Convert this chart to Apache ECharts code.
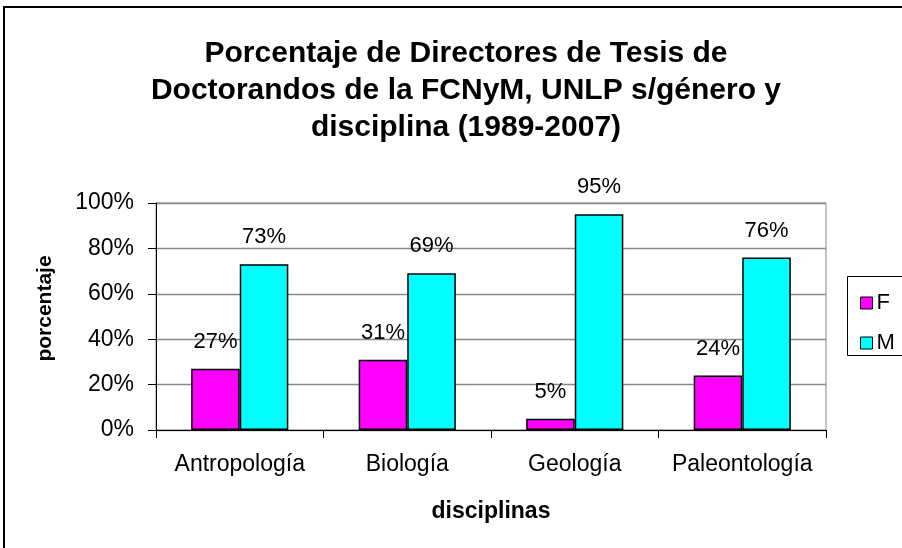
<!DOCTYPE html>
<html>
<head>
<meta charset="utf-8">
<script src="https://cdn.jsdelivr.net/npm/echarts@6/dist/echarts.min.js"></script>
<style>
  html, body { margin: 0; padding: 0; background: #fff; }
  #chart { width: 902px; height: 548px; }
</style>
</head>
<body>
<div id="chart"></div>
<script>
// Disciplines and share of thesis directors by gender (percent)
const categories = ['Antropología', 'Biología', 'Geología', 'Paleontología'];
const seriesF = [27, 31, 5, 24];
const seriesM = [73, 69, 95, 76];
const yTicks = [0, 20, 40, 60, 80, 100];

const FONT = 'Liberation Sans, Arial, sans-serif';

const chart = echarts.init(document.getElementById('chart'));

function barSeries(name, data, color) {
  return {
    name: name,
    type: 'bar',
    data: data,
    barGap: '0%',
    barCategoryGap: '42%',
    itemStyle: { color: color, borderColor: '#000', borderWidth: 1.5 },
    label: {
      show: true,
      position: 'top',
      distance: 16,
      formatter: p => p.value + '%',
      color: '#000',
      fontFamily: FONT,
      fontSize: 22
    }
  };
}

chart.setOption({
  animation: false,
  backgroundColor: '#fff',
  title: {
    text: 'Porcentaje de Directores de Tesis de\nDoctorandos de la FCNyM, UNLP s/género y\ndisciplina (1989-2007)',
    left: 461,
    top: 30,
    textAlign: 'center',
    textStyle: {
      fontFamily: FONT,
      fontSize: 30,
      fontWeight: 'bold',
      color: '#000',
      lineHeight: 37,
      align: 'center'
    }
  },
  graphic: [
    {
      type: 'rect',
      shape: { x: 4, y: 7, width: 1000, height: 1000 },
      style: { fill: 'none', stroke: '#000', lineWidth: 2 },
      silent: true
    },
    {
      type: 'rect',
      shape: { x: 847.5, y: 276.5, width: 100, height: 79 },
      style: { fill: '#fff', stroke: '#000', lineWidth: 1 },
      silent: true,
      z: 1
    }
  ],
  legend: {
    orient: 'vertical',
    left: 855,
    top: 287,
    itemWidth: 12,
    itemHeight: 12,
    itemGap: 18,
    icon: 'rect',
    z: 5,
    itemStyle: { borderColor: '#000', borderWidth: 1 },
    textStyle: { fontFamily: FONT, fontSize: 22, color: '#000', padding: [0, 0, 0, -1] },
    data: ['F', 'M']
  },
  grid: {
    left: 156,
    top: 203,
    right: 76,
    bottom: 118,
    show: true,
    borderColor: '#888',
    borderWidth: 1,
    backgroundColor: 'transparent'
  },
  xAxis: {
    type: 'category',
    data: categories,
    name: 'disciplinas',
    nameLocation: 'middle',
    nameGap: 70,
    nameTextStyle: { fontFamily: FONT, fontSize: 23, fontWeight: 'bold', color: '#000' },
    axisLine: { lineStyle: { color: '#000', width: 1 } },
    axisTick: { show: true, interval: 0, length: 8, lineStyle: { color: '#000' } },
    axisLabel: { interval: 0, hideOverlap: false, fontFamily: FONT, fontSize: 23, color: '#000', margin: 23 }
  },
  yAxis: {
    type: 'value',
    min: yTicks[0],
    max: yTicks[yTicks.length - 1],
    interval: 20,
    name: 'porcentaje',
    nameLocation: 'middle',
    nameGap: 100,
    nameTextStyle: { fontFamily: FONT, fontSize: 21, fontWeight: 'bold', color: '#000', padding: [0, 0, 0, 16] },
    axisLine: { show: true, lineStyle: { color: '#000', width: 1 } },
    axisTick: { show: true, length: 8, inside: false, lineStyle: { color: '#000' } },
    axisLabel: {
      fontFamily: FONT,
      fontSize: 23,
      color: '#000',
      margin: 22,
      formatter: v => v + '%'
    },
    splitLine: { show: true, lineStyle: { color: '#888', width: 1.3 } }
  },
  series: [
    barSeries('F', seriesF, '#FF00FF'),
    barSeries('M', seriesM, '#00FFFF')
  ]
});
</script>
</body>
</html>
